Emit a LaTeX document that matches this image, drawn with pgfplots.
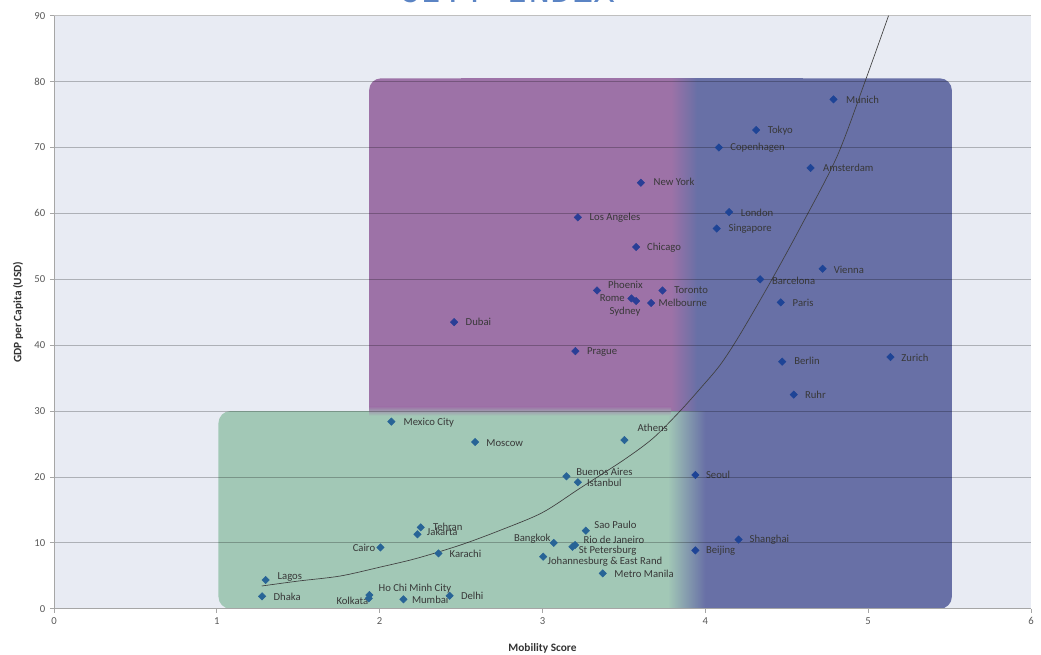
\documentclass[border=0pt]{standalone}
\usepackage{fontspec}
\setmainfont{Carlito}
\newfontfamily\titlefont{Liberation Mono}
\usepackage{pgfplots}
\pgfplotsset{compat=1.18}
\definecolor{bgc}{RGB}{232,235,243}
\definecolor{cpurple}{RGB}{157,114,167}
\definecolor{cblue}{RGB}{104,112,166}
\definecolor{cgreen}{RGB}{162,200,182}
\definecolor{mgreen}{RGB}{40,100,150}
\definecolor{mpurple}{RGB}{42,62,150}
\definecolor{mblue}{RGB}{30,68,150}
\definecolor{titleblue}{RGB}{91,132,196}
\tikzset{lbl/.style={font=\fontsize{8}{9.6}\selectfont, text=black!78, inner sep=0pt}}
\begin{document}
\begin{tikzpicture}
\begin{axis}[
  at={(0,0)}, anchor=south west,
  scale only axis, width=732.75pt, height=444.75pt,
  xmin=0, xmax=6, ymin=0, ymax=90,
  xtick={0,1,2,3,4,5,6}, ytick={0,10,20,30,40,50,60,70,80,90},
  axis x line*=bottom, axis y line*=left,
  axis background/.style={fill=bgc},
  ymajorgrids,
  major grid style={black, opacity=0.25, line width=0.6pt},
  axis line style={black!35, line width=0.6pt},
  tick style={black!35, line width=0.6pt},
  tick align=outside, major tick length=3pt,
  tick label style={font=\fontsize{8}{9}\selectfont, text=black!65},
  /pgf/number format/assume math mode=true,
  xlabel={Mobility Score}, ylabel={GDP per Capita (USD)},
  label style={font=\bfseries\fontsize{8.5}{10}\selectfont, text=black!80},
  xlabel style={at={(axis description cs:0.5,0)}, anchor=center, yshift=-30pt},
  ylabel style={at={(axis description cs:0,0.5)}, anchor=center, yshift=27pt},
  axis on top,
]
% regions
\fill[cblue, rounded corners=9pt] (axis cs:3.78,0) rectangle (axis cs:5.514,80.5);
\fill[cblue] (axis cs:3.78,0) rectangle (axis cs:4.6,80.5);
\fill[cpurple, rounded corners=9pt] (axis cs:1.935,30) rectangle (axis cs:3.8,80.5);
\fill[cpurple] (axis cs:1.935,30) rectangle (axis cs:2.5,60);
\fill[cpurple] (axis cs:2.5,30) rectangle (axis cs:3.8,80.5);
\fill[left color=cpurple, right color=cblue] (axis cs:3.79,30) rectangle (axis cs:3.95,80.5);
\fill[cgreen, rounded corners=9pt] (axis cs:1.01,0) rectangle (axis cs:3.78,30);
\fill[cgreen] (axis cs:2.0,0) rectangle (axis cs:3.78,30);
\fill[left color=cgreen, right color=cblue] (axis cs:3.77,0) rectangle (axis cs:4.0,30);
\fill[top color=cpurple, bottom color=cgreen] (axis cs:1.935,29.3) rectangle (axis cs:3.79,30.7);

% trend line
\addplot[no marks, smooth, black!75, line width=0.5pt] coordinates {
(1.276,3.45) (1.5,4.2) (1.757,4.96) (2.0,6.3) (2.228,7.65) (2.5,9.7)
(2.75,12.0) (3.0,14.6) (3.231,18.3) (3.5,22.6) (3.68,25.9) (3.845,30.0)
(3.968,33.4) (4.091,37.0) (4.21,41.5) (4.398,49.5) (4.582,57.8)
(4.808,68.6) (4.982,80.1) (5.125,90)};

% markers
\addplot[only marks, mark=square*, mark size=1.95pt, mark options={rotate=45, fill=mblue, draw=mblue}] coordinates {
(4.787,77.3) (4.312,72.65) (4.083,70.0) (4.646,66.9) (4.146,60.2) (4.070,57.7)
(4.720,51.6) (4.337,50.0) (4.463,46.5) (4.472,37.5) (5.137,38.2) (4.543,32.5)
(3.939,20.3) (4.204,10.5) (3.939,8.86)};
\addplot[only marks, mark=square*, mark size=1.95pt, mark options={rotate=45, fill=mpurple, draw=mpurple}] coordinates {
(3.604,64.65) (3.217,59.4) (3.575,54.9) (3.335,48.3) (3.737,48.3) (3.546,47.1)
(3.575,46.7) (3.667,46.4) (2.457,43.5) (3.202,39.1)};
\addplot[only marks, mark=square*, mark size=1.95pt, mark options={rotate=45, fill=mgreen, draw=mgreen}] coordinates {
(2.072,28.4) (2.586,25.3) (3.503,25.6) (3.147,20.1) (3.217,19.2) (3.266,11.85)
(2.252,12.35) (2.232,11.3) (2.005,9.3) (2.361,8.4) (3.069,10.0) (3.200,9.67)
(3.184,9.4) (3.004,7.9) (3.370,5.37) (1.937,2.08) (1.933,1.58) (2.146,1.43)
(2.430,1.97) (1.300,4.36) (1.278,1.88)};

% labels
\node[lbl, anchor=west] at (axis cs:4.863,77.3) {Munich};
\node[lbl, anchor=west] at (axis cs:4.382,72.5) {Tokyo};
\node[lbl, anchor=west] at (axis cs:4.152,70.0) {Copenhagen};
\node[lbl, anchor=west] at (axis cs:4.722,66.9) {Amsterdam};
\node[lbl, anchor=west] at (axis cs:4.216,60.05) {London};
\node[lbl, anchor=west] at (axis cs:4.142,57.6) {Singapore};
\node[lbl, anchor=west] at (axis cs:4.787,51.45) {Vienna};
\node[lbl, anchor=west] at (axis cs:4.408,49.8) {Barcelona};
\node[lbl, anchor=west] at (axis cs:4.535,46.4) {Paris};
\node[lbl, anchor=west] at (axis cs:3.681,64.8) {New York};
\node[lbl, anchor=west] at (axis cs:3.288,59.3) {Los Angeles};
\node[lbl, anchor=west] at (axis cs:3.641,54.85) {Chicago};
\node[lbl, anchor=west] at (axis cs:3.401,49.2) {Phoenix};
\node[lbl, anchor=west] at (axis cs:3.808,48.3) {Toronto};
\node[lbl, anchor=west] at (axis cs:3.35,47.15) {Rome};
\node[lbl, anchor=west] at (axis cs:3.411,45.1) {Sydney};
\node[lbl, anchor=west] at (axis cs:3.712,46.4) {Melbourne};
\node[lbl, anchor=west] at (axis cs:2.527,43.5) {Dubai};
\node[lbl, anchor=west] at (axis cs:3.272,39.0) {Prague};
\node[lbl, anchor=west] at (axis cs:4.545,37.55) {Berlin};
\node[lbl, anchor=west] at (axis cs:5.203,38.15) {Zurich};
\node[lbl, anchor=west] at (axis cs:4.611,32.5) {Ruhr};
\node[lbl, anchor=west] at (axis cs:4.003,20.3) {Seoul};
\node[lbl, anchor=west] at (axis cs:4.271,10.4) {Shanghai};
\node[lbl, anchor=west] at (axis cs:4.003,8.8) {Beijing};
\node[lbl, anchor=west] at (axis cs:2.146,28.3) {Mexico City};
\node[lbl, anchor=west] at (axis cs:2.654,25.2) {Moscow};
\node[lbl, anchor=west] at (axis cs:3.583,27.4) {Athens};
\node[lbl, anchor=west] at (axis cs:3.206,20.75) {Buenos Aires};
\node[lbl, anchor=west] at (axis cs:3.272,19.1) {Istanbul};
\node[lbl, anchor=west] at (axis cs:3.317,12.8) {Sao Paulo};
\node[lbl, anchor=west] at (axis cs:2.326,12.45) {Tehran};
\node[lbl, anchor=west] at (axis cs:2.289,11.65) {Jakarta};
\node[lbl, anchor=east] at (axis cs:1.974,9.3) {Cairo};
\node[lbl, anchor=west] at (axis cs:2.428,8.3) {Karachi};
\node[lbl, anchor=east] at (axis cs:3.051,10.6) {Bangkok};
\node[lbl, anchor=west] at (axis cs:3.251,10.5) {Rio de Janeiro};
\node[lbl, anchor=west] at (axis cs:3.221,8.8) {St Petersburg};
\node[lbl, anchor=west] at (axis cs:3.030,7.2) {Johannesburg \& East Rand};
\node[lbl, anchor=west] at (axis cs:3.440,5.37) {Metro Manila};
\node[lbl, anchor=west] at (axis cs:1.992,3.1) {Ho Chi Minh City};
\node[lbl, anchor=east] at (axis cs:1.931,1.2) {Kolkata};
\node[lbl, anchor=west] at (axis cs:2.197,1.3) {Mumbai};
\node[lbl, anchor=west] at (axis cs:2.498,1.93) {Delhi};
\node[lbl, anchor=west] at (axis cs:1.372,4.77) {Lagos};
\node[lbl, anchor=west] at (axis cs:1.347,1.82) {Dhaka};
\end{axis}
\node[anchor=base, text=titleblue, font=\titlefont\fontsize{27}{30}\selectfont] at (339.75pt,454.6pt) {CITY INDEX};
\pgfresetboundingbox
\useasboundingbox (-40.5pt,-34.7pt) rectangle (740.25pt,456.55pt);
\end{tikzpicture}
\end{document}
